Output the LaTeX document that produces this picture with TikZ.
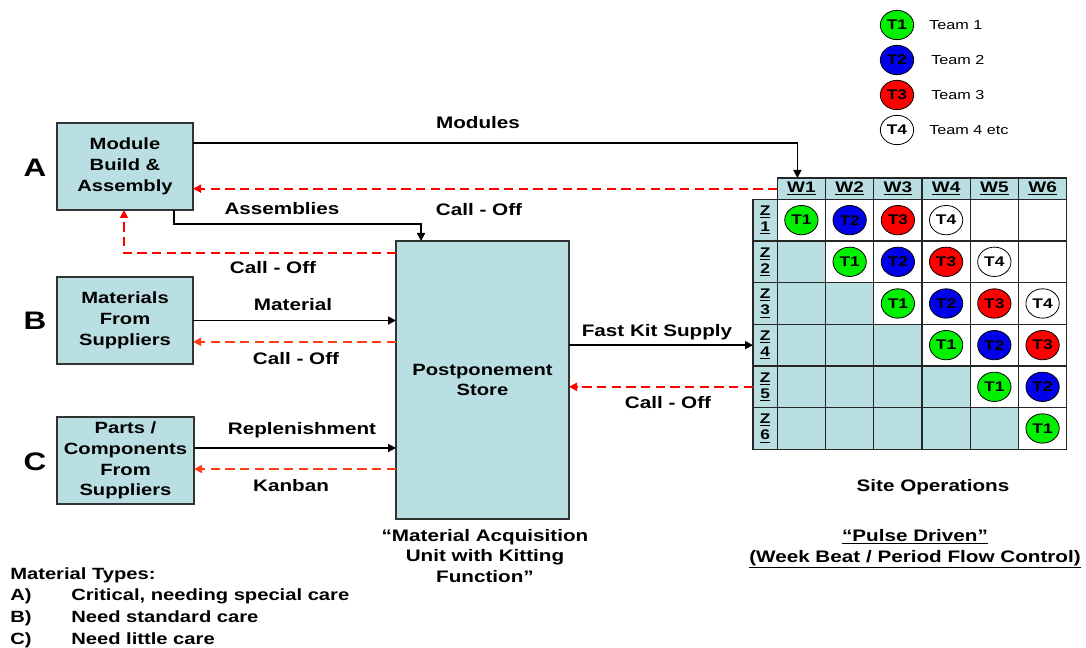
\documentclass[tikz,border=0pt]{standalone}
\usepackage{fontspec}
\setmainfont{Liberation Sans}[FakeStretch=1.24]
\usetikzlibrary{arrows.meta,shapes.geometric}
\definecolor{boxfill}{RGB}{185,223,226}
\definecolor{tgreen}{RGB}{0,240,0}
\definecolor{tblue}{RGB}{0,0,235}
\definecolor{tred}{RGB}{255,0,0}
\definecolor{dred}{RGB}{255,0,0}
\definecolor{dorange}{RGB}{255,60,20}
\tikzset{
 box/.style={draw=black!80, line width=0.9pt, fill=boxfill, inner sep=0pt, outer sep=0pt, align=center, font=\bfseries\fontsize{12.2}{15.6}\selectfont},
 lbl/.style={font=\bfseries\fontsize{12.5}{15.6}\selectfont, inner sep=0pt, align=center},
 big/.style={font=\bfseries\fontsize{19}{22}\selectfont, inner sep=0pt},
 arr/.style={line width=1.3pt, -{Triangle[length=6pt,width=6pt]}},
 rdash/.style={arr, draw=dred, dash pattern=on 7pt off 4pt},
 odash/.style={arr, draw=dorange, dash pattern=on 7pt off 4pt},
 cell/.style={draw=black!85, line width=1pt, inner sep=0pt, outer sep=0pt, minimum width=36.17pt, minimum height=31.25pt},
 team/.style={ellipse, draw=black, line width=0.6pt, minimum width=25pt, minimum height=22pt, inner sep=0pt, font=\bfseries\fontsize{10.5}{12}\selectfont},
 legtxt/.style={anchor=west, inner sep=0pt, font=\fontsize{9.8}{12}\selectfont},
}
\begin{document}
\begin{tikzpicture}[x=0.75pt,y=-0.75pt]
\useasboundingbox (0,0) rectangle (1086,648);

% left boxes
\node[box, minimum width=102pt, minimum height=65.25pt] (A) at (125,166.5) {Module\\Build \&\\Assembly};
\node[box, minimum width=102pt, minimum height=65.25pt] (B) at (125,320.5) {Materials\\From\\Suppliers};
\node[box, minimum width=102.75pt, minimum height=65.25pt] (C) at (125.5,460.5) {Parts /\\Components\\From\\Suppliers};
\node[box, minimum width=129.75pt, minimum height=208.5pt] (S) at (482.5,380) {Postponement\\Store};

\node[big] (la) at (35,168) {A};
\node[big] (lb) at (35,321) {B};
\node[big] (lc) at (35,462) {C};

% grid
\foreach \j in {1,...,6} {
  \node[cell, fill=boxfill, minimum height=16pt, font=\bfseries\fontsize{11.5}{13}\selectfont] (h\j) at ({777.3+48.23*(\j-0.5)},188.65) {\underline{W\j}};
}
\foreach \i in {1,...,6} {
  \node[cell, fill=boxfill, minimum width=18.2pt, align=center, font=\bfseries\fontsize{10.5}{11}\selectfont] (z\i) at (765.15,{199.3+41.67*(\i-0.5)}) {\underline{Z}\\[1pt]\underline{\i}};
  \foreach \j in {1,...,6} {
    \ifnum\j<\i\relax \def\cf{boxfill}\else\def\cf{white}\fi
    \node[cell, fill=\cf] (c\i\j) at ({777.3+48.23*(\j-0.5)},{199.3+41.67*(\i-0.5)}) {};
  }
}
\foreach \i in {1,...,6} {
  \foreach \k in {1,...,4} {
    \pgfmathtruncatemacro\col{\i+\k-1}
    \ifnum\col<7\relax
      \ifcase\k\or\def\tc{tgreen}\or\def\tc{tblue}\or\def\tc{tred}\or\def\tc{white}\fi
      \node[team, fill=\tc] (t\i\col) at (c\i\col) {T\k};
    \fi
  }
}

% legend
\node[team, fill=tgreen] (l1) at (897,25) {T1};
\node[team, fill=tblue] (l2) at (897,60) {T2};
\node[team, fill=tred] (l3) at (897,95) {T3};
\node[team, fill=white] (l4) at (897,130) {T4};
\node[legtxt] (lt1) at (929,25) {Team 1};
\node[legtxt] (lt2) at (931,60) {Team 2};
\node[legtxt] (lt3) at (931,95) {Team 3};
\node[legtxt] (lt4) at (929,130) {Team 4 etc};

% connectors
\draw[arr] ([yshift=17.6pt]A.east) -| ([xshift=-3pt]h1.north);
\draw[rdash] (h1.west) -- (h1.west -| A.east);
\draw[arr] ([xshift=36.75pt]A.south) -- ++(0,14) -| ([xshift=-46.1pt]S.north);
\draw[rdash] ([yshift=95.25pt]S.west) -| ([xshift=-0.75pt]A.south);
\draw[arr] (B.east) -- (B.east -| S.west);
\coordinate (b2) at ([yshift=-16pt]B.east);
\draw[odash] (b2 -| S.west) -- (b2);
\coordinate (c1) at ([yshift=9.4pt]C.east);
\coordinate (c2) at ([yshift=-6.4pt]C.east);
\draw[arr] (c1) -- (c1 -| S.west);
\draw[odash] (c2 -| S.west) -- (c2);
\draw[arr] (z4.west -| S.east) -- (z4.west);
\draw[rdash] (z5.west) -- (z5.west -| S.east);

% labels
\node[lbl] (m1) at (478,123) {Modules};
\node[lbl] (m2) at (282,209) {Assemblies};
\node[lbl] (m3) at (479,210) {Call - Off};
\node[lbl] (m4) at (273,268) {Call - Off};
\node[lbl] (m5) at (293,305) {Material};
\node[lbl] (m6) at (296,359) {Call - Off};
\node[lbl] (m7) at (302,430) {Replenishment};
\node[lbl] (m8) at (291,486) {Kanban};
\node[lbl] (m9) at (657,332) {Fast Kit Supply};
\node[lbl] (m10) at (668,403) {Call - Off};

\node[lbl] (q1) at (485,556) {“Material Acquisition\\Unit with Kitting\\Function”};
\node[lbl] (so) at (933,487) {Site Operations};
\node[lbl] (pd) at (915,549) {\underline{“Pulse Driven”}\\\underline{(Week Beat / Period Flow Control)}};

\node[anchor=north west, inner sep=0pt, align=left, font=\bfseries\fontsize{12.2}{16.3}\selectfont] (mt) at (10,567) {Material Types:\\\makebox[45.75pt][l]{A)}Critical, needing special care\\\makebox[45.75pt][l]{B)}Need standard care\\\makebox[45.75pt][l]{C)}Need little care};
\end{tikzpicture}
\end{document}
